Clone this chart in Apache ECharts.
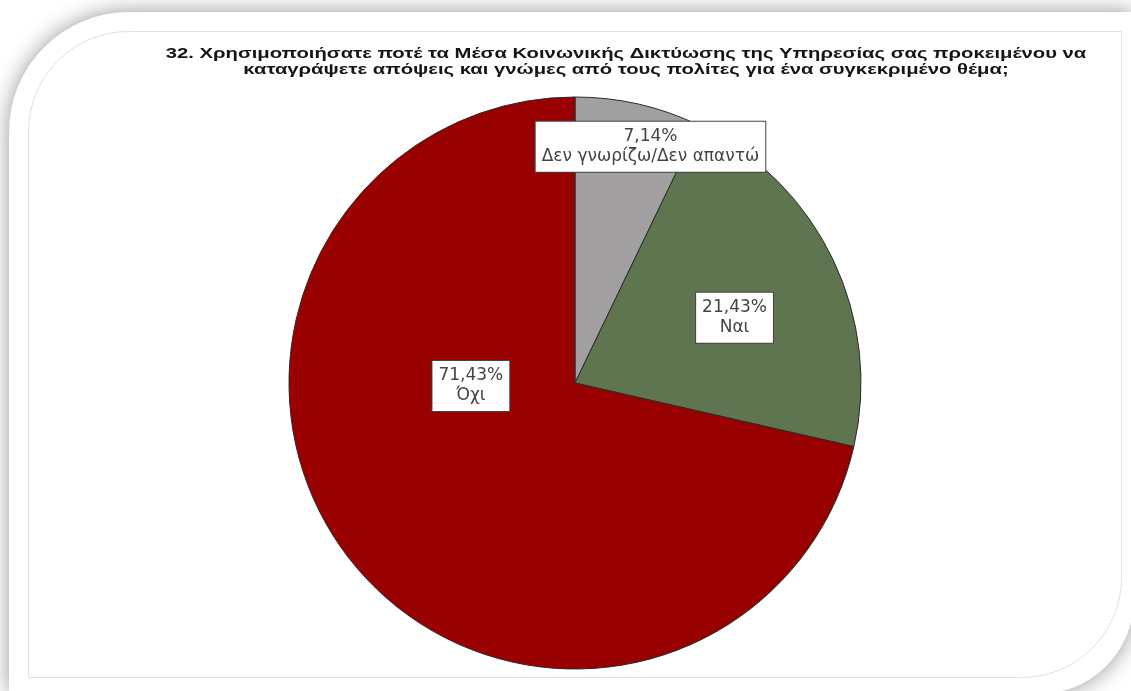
<!DOCTYPE html>
<html>
<head>
<meta charset="utf-8">
<script src="https://cdn.jsdelivr.net/npm/echarts@6/dist/echarts.min.js"></script>
<style>
  html, body { margin: 0; padding: 0; background: #ffffff; }
  #chart { width: 1131px; height: 691px; }
</style>
</head>
<body>
<div id="chart"></div>
<script>
// Survey question 32: answers in percent of respondents
const titleLines = [
  '32. Χρησιμοποιήσατε ποτέ τα Μέσα Κοινωνικής Δικτύωσης της Υπηρεσίας σας προκειμένου να',
  'καταγράψετε απόψεις και γνώμες από τους πολίτες για ένα συγκεκριμένο θέμα;'
];
const answers = ['Δεν γνωρίζω/Δεν απαντώ', 'Ναι', 'Όχι'];
const percents = [7.14, 21.43, 71.43];
const sliceColors = ['#a19f9f', '#5f7550', '#990000'];

// nudges applied to each slice label after the library places it
const labelNudge = [[43, -94], [28, -2], [10, -88]];

const chart = echarts.init(document.getElementById('chart'), null, { renderer: 'canvas' });

const option = {
  backgroundColor: '#ffffff',
  animation: false,
  graphic: [
    {
      type: 'rect', z: -10, silent: true,
      shape: { x: 9, y: 12, width: 1125, height: 682, r: [120, 0, 95, 0] },
      style: { fill: '#ffffff', shadowBlur: 22, shadowColor: 'rgba(0,0,0,0.42)' }
    },
    {
      type: 'rect', z: -9, silent: true,
      shape: { x: 28.5, y: 31.5, width: 1093, height: 646, r: [100, 0, 100, 0] },
      style: { fill: 'none', stroke: '#e0e0e0', lineWidth: 1 }
    },
    {
      type: 'text', x: 626, y: 46, scaleX: 1.35, z: 5,
      style: {
        text: titleLines.join('\n'),
        textAlign: 'center', textVerticalAlign: 'top',
        font: 'bold 15px "Liberation Sans", Arial, sans-serif',
        lineHeight: 16, fill: '#151515'
      }
    }
  ],
  series: [{
    type: 'pie',
    center: [575, 383],
    radius: 286,
    startAngle: 90,
    clockwise: true,
    avoidLabelOverlap: false,
    emphasis: { disabled: true },
    itemStyle: { borderColor: '#2b2b2b', borderWidth: 1 },
    label: {
      show: true,
      position: 'inside',
      formatter: p => p.value.toFixed(2).replace('.', ',') + '%\n' + p.name,
      fontFamily: '"DejaVu Sans", sans-serif',
      fontSize: 17,
      lineHeight: 20,
      color: '#444444',
      backgroundColor: '#ffffff',
      borderColor: '#444444',
      borderWidth: 1,
      padding: [5, 6, 5, 6],
      align: 'center'
    },
    labelLine: { show: false },
    labelLayout: params => ({ dx: labelNudge[params.dataIndex][0], dy: labelNudge[params.dataIndex][1] }),
    data: answers.map((name, i) => ({ name, value: percents[i], itemStyle: { color: sliceColors[i] } }))
  }]
};

chart.setOption(option);
</script>
</body>
</html>
